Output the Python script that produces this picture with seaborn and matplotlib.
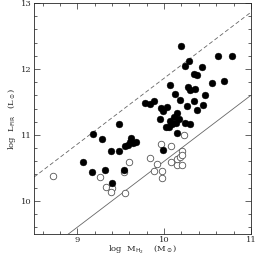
import matplotlib
matplotlib.use("Agg")
import matplotlib.pyplot as plt
from matplotlib.ticker import MultipleLocator
import seaborn as sns
import pandas as pd

# galaxias con emision detectada (simbolos llenos)
mh2_lleno = [9.067, 9.167, 9.175, 9.279, 9.322, 9.383, 9.394, 9.478, 9.474, 9.532,
             9.548, 9.584, 9.603, 9.618, 9.641, 9.672, 9.776, 9.833, 9.883, 9.948,
             9.960, 9.986, 10.032, 10.017, 10.055, 10.063, 10.086, 10.140, 10.113, 10.147,
             10.167, 10.063, 10.129, 10.182, 10.147, 9.983, 10.193, 10.239, 10.301, 10.262,
             10.270, 10.301, 10.354, 10.285, 10.244, 10.339, 10.377, 10.431, 10.342, 10.377,
             10.443, 10.466, 10.554, 10.692, 10.623, 10.784]
lfir_lleno = [10.586, 10.436, 11.008, 10.944, 10.462, 10.755, 10.264, 10.762, 11.167, 10.462,
              10.826, 10.848, 10.898, 10.950, 10.883, 10.898, 11.480, 11.470, 11.515, 11.245,
              11.409, 11.364, 11.420, 11.117, 11.121, 11.212, 11.162, 11.177, 11.268, 11.329,
              11.238, 11.753, 11.626, 11.530, 11.026, 10.777, 12.353, 11.186, 11.162, 11.439,
              11.732, 11.686, 11.697, 12.121, 12.045, 11.924, 11.914, 12.030, 11.511, 11.374,
              11.459, 11.602, 11.783, 11.823, 12.192, 12.192]

# simbolos abiertos
mh2_abierto = [8.722, 9.255, 9.328, 9.394, 9.382, 9.546, 9.540, 9.592, 9.833, 9.920,
               9.882, 9.976, 9.979, 10.083, 10.147, 10.207, 10.143, 10.180, 10.208, 10.207,
               9.963, 10.078, 10.232]
lfir_abierto = [10.383, 10.356, 10.212, 10.189, 10.127, 10.117, 10.432, 10.588, 10.647, 10.561,
                10.459, 10.458, 10.345, 10.586, 10.541, 10.538, 10.633, 10.667, 10.753, 10.702,
                10.864, 10.829, 11.000]

# rectas de pendiente 1
recta_x = [8.5, 11.0]
desplaz_sup = 1.86
desplaz_inf = 0.60

df_lleno = pd.DataFrame({"mh2": mh2_lleno, "lfir": lfir_lleno})
df_abierto = pd.DataFrame({"mh2": mh2_abierto, "lfir": lfir_abierto})

sns.set_style("ticks")
plt.rcParams["font.family"] = ["DejaVu Serif"]

fig = plt.figure(figsize=(2.56, 2.56), dpi=100)
ax = fig.add_axes([0.133, 0.087, 0.847, 0.901])

ax.plot(recta_x, [v + desplaz_sup for v in recta_x], color="#666666", lw=0.6, ls=(0, (5, 3)))
ax.plot(recta_x, [v + desplaz_inf for v in recta_x], color="#666666", lw=0.6)

sns.scatterplot(data=df_abierto, x="mh2", y="lfir", ax=ax, marker="o", s=22,
                facecolor="white", edgecolor="#555555", linewidth=0.6, zorder=3)
sns.scatterplot(data=df_lleno, x="mh2", y="lfir", ax=ax, marker="o", s=24,
                color="black", edgecolor="black", linewidth=0.3, zorder=4)

ax.set_xlim(8.5, 11)
ax.set_ylim(9.5, 13)
ax.xaxis.set_major_locator(MultipleLocator(1))
ax.xaxis.set_minor_locator(MultipleLocator(0.2))
ax.yaxis.set_major_locator(MultipleLocator(1))
ax.yaxis.set_minor_locator(MultipleLocator(0.2))
ax.tick_params(which="both", direction="in", top=True, right=True, labelsize=6, width=0.5, pad=1.5)
ax.tick_params(which="major", length=4)
ax.tick_params(which="minor", length=2)
for s in ax.spines.values():
    s.set_linewidth(0.6)

ax.set_xlabel(r"log  M$_{\rm H_2}$    (M$_\odot$)", fontsize=6, labelpad=-0.5)
ax.set_ylabel(r"log  L$_{\rm FIR}$   (L$_\odot$)", fontsize=6, labelpad=2)

fig.savefig("out.png", dpi=100)
